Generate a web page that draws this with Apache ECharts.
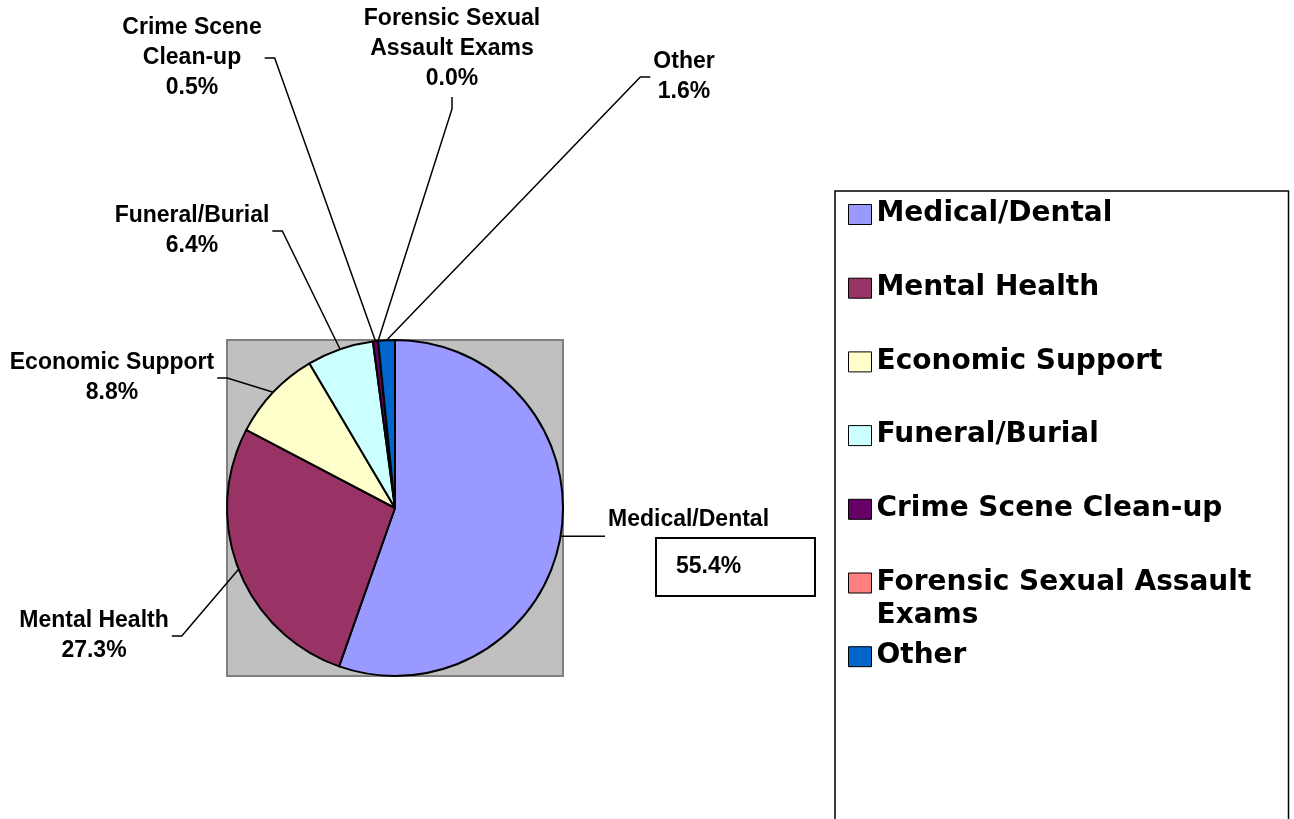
<!DOCTYPE html>
<html>
<head>
<meta charset="utf-8">
<script src="https://cdn.jsdelivr.net/npm/echarts@6/dist/echarts.min.js"></script>
<style>
html,body{margin:0;padding:0;background:#fff;}
#chart{width:1294px;height:819px;}
</style>
</head>
<body>
<div id="chart"></div>
<script>
const categories = ['Medical/Dental', 'Mental Health', 'Economic Support', 'Funeral/Burial', 'Crime Scene Clean-up', 'Forensic Sexual Assault Exams', 'Other'];
const values = [55.4, 27.3, 8.8, 6.4, 0.5, 0.0, 1.6];
const colors = ['#9999FF', '#993366', '#FFFFCC', '#CCFFFF', '#660066', '#FF8080', '#0066CC'];
const pieLabelNames = ['Medical/Dental', 'Mental Health', 'Economic Support', 'Funeral/Burial', 'Crime Scene\nClean-up', 'Forensic Sexual\nAssault Exams', 'Other'];
const legendNames = ['Medical/Dental', 'Mental Health', 'Economic Support', 'Funeral/Burial', 'Crime Scene Clean-up', 'Forensic Sexual Assault\nExams', 'Other'];

// label placement (layout only)
const labelPlace = [
  {x: 608, y: 502, align: 'left', va: 'top', side: 'arc'},
  {x: 94, y: 636, side: 'right'},
  {x: 112, y: 378, side: 'right'},
  {x: 192, y: 231, side: 'right'},
  {x: 192, y: 58, side: 'right'},
  {x: 452, y: 49, side: 'bottom'},
  {x: 684, y: 77, side: 'left'}
];

const chart = echarts.init(document.getElementById('chart'), null, {renderer: 'canvas'});

const pieData = categories.map((c, i) => ({
  name: c, value: values[i], itemStyle: {color: colors[i]}
}));

const LFONT = {fontFamily: 'DejaVu Sans', fontWeight: 'bold', fontSize: 28, color: '#000'};
const PFONT = 'Liberation Sans, Arial, sans-serif';

const option = {
  backgroundColor: '#ffffff',
  animation: false,
  grid: {
    left: 227, top: 340, width: 336, height: 336,
    show: true, backgroundColor: '#C0C0C0', borderColor: '#808080', borderWidth: 2
  },
  xAxis: {type: 'value', show: false},
  yAxis: {type: 'value', show: false},
  legend: {
    orient: 'vertical',
    left: 835, top: 191, height: 800,
    padding: [7, 12, 220, 13],
    borderColor: '#000', borderWidth: 1.5,
    itemWidth: 23, itemHeight: 20, itemGap: 7.7,
    icon: 'rect',
    selectedMode: false,
    itemStyle: {borderColor: '#000', borderWidth: 1},
    textStyle: Object.assign({
      lineHeight: 32, width: 400,
      rich: {
        a: Object.assign({lineHeight: 32}, LFONT),
        x: Object.assign({lineHeight: 1, height: 34, verticalAlign: 'top'}, LFONT)
      }
    }, LFONT),
    formatter: function (name) {
      const parts = legendNames[categories.indexOf(name)].split('\n');
      return '{a|' + parts[0] + '}\n{x|' + (parts[1] || ' ') + '}';
    },
    data: categories
  },
  series: [{
    type: 'pie',
    center: [395, 508],
    radius: 168,
    startAngle: 90,
    clockwise: true,
    avoidLabelOverlap: false,
    itemStyle: {borderColor: '#000', borderWidth: 2},
    emphasis: {disabled: true},
    label: {
      show: true,
      position: 'outside',
      color: '#000',
      fontFamily: PFONT,
      fontWeight: 'bold',
      fontSize: 23,
      lineHeight: 30,
      formatter: function (p) {
        const pct = values[p.dataIndex].toFixed(1) + '%';
        if (p.dataIndex === 0) {
          return '{n|' + pieLabelNames[0] + '}\n{sp|}{box|' + pct + '}';
        }
        return pieLabelNames[p.dataIndex] + '\n' + pct;
      },
      rich: {
        n: {fontFamily: PFONT, fontWeight: 'bold', fontSize: 23, lineHeight: 36, color: '#000'},
        sp: {width: 48, height: 58},
        box: {
          fontFamily: PFONT, fontWeight: 'bold', fontSize: 23, color: '#000',
          width: 139, height: 58, lineHeight: 58, padding: [0, 0, 0, 20],
          borderColor: '#000', borderWidth: 2, align: 'left'
        }
      }
    },
    labelLine: {show: true, length: 10, length2: 10, smooth: false, lineStyle: {color: '#000', width: 1.5}},
    labelLayout: function (p) {
      const c = labelPlace[p.dataIndex];
      const w = p.labelRect.width, h = p.labelRect.height;
      const a = p.labelLinePoints ? p.labelLinePoints[0] : null;
      let pts;
      if (a) {
        if (c.side === 'right') {
          const ex = c.x + w / 2 + 3;
          pts = [a, [ex + 10, c.y], [ex, c.y]];
        } else if (c.side === 'left') {
          const ex = c.x - w / 2 - 3;
          pts = [a, [ex - 10, c.y], [ex, c.y]];
        } else if (c.side === 'bottom') {
          const ey = c.y + h / 2 + 3;
          pts = [a, [c.x, ey + 12], [c.x, ey]];
        } else {
          pts = [a, [c.x - 3, a[1]], [c.x - 3, a[1]]];
        }
      }
      const out = {x: c.x, y: c.y, align: c.align || 'center', verticalAlign: c.va || 'middle'};
      if (pts) out.labelLinePoints = pts;
      return out;
    },
    data: pieData
  }]
};

chart.setOption(option);
</script>
</body>
</html>
